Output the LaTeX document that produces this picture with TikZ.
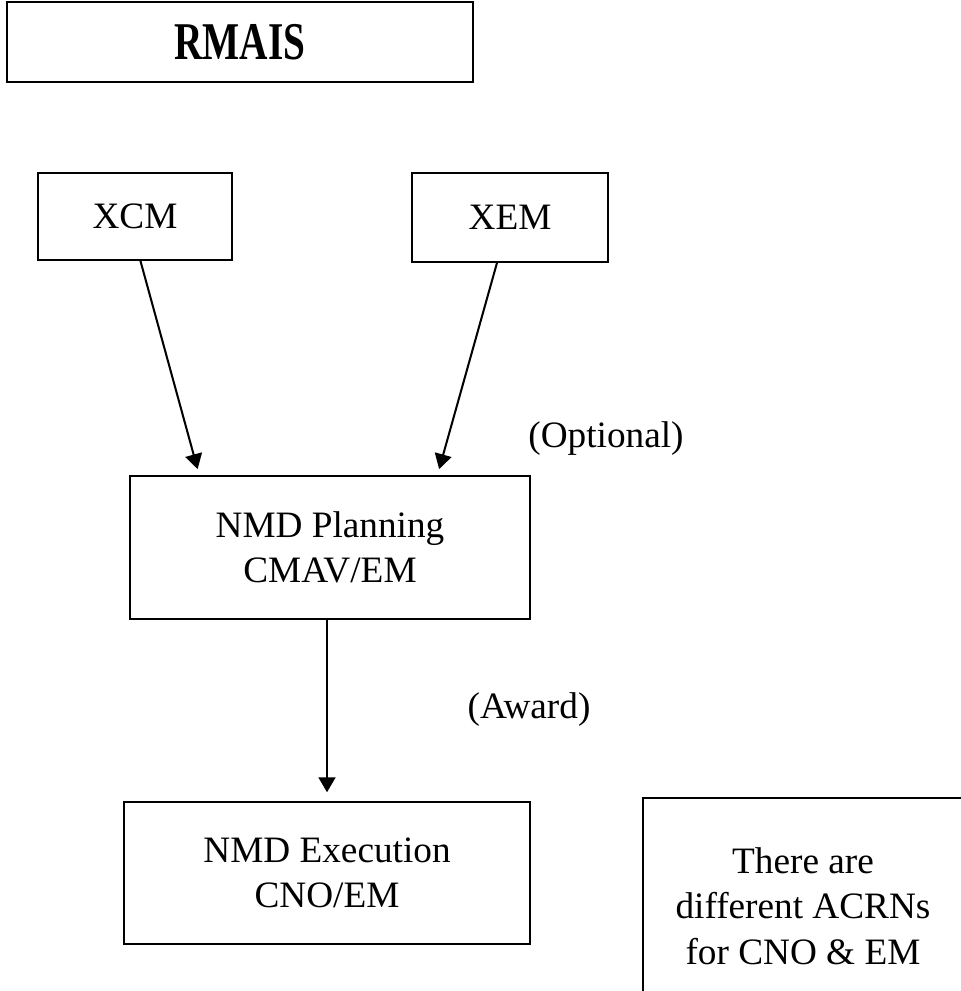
\documentclass[tikz,border=0pt]{standalone}
\usepackage{fontspec}
\setmainfont{Liberation Serif}
\usetikzlibrary{arrows.meta}

\tikzset{
    box/.style={draw, line width=1.1pt, rectangle, inner sep=0pt, align=center,
        font={\fontsize{21.2}{25.9}\selectfont}},
    tag/.style={inner sep=0pt, font={\fontsize{21.2}{25.9}\selectfont}},
    flow/.style={line width=1.15pt, -{Triangle[length=0.3cm, width=0.34cm]}}
}

\begin{document}
\begin{tikzpicture}
        \clip (0, 0) rectangle (19.22, -19.82);

        % Draw the title box
        \node[box, minimum width=9.32cm, minimum height=1.6cm] (rmais) at (4.80, -0.84)
            {\fontsize{30.2}{36}\selectfont\bfseries\scalebox{0.74}[1]{RMAIS}};

        % Draw the two sources
        \node[box, minimum width=3.88cm, minimum height=1.74cm] (xcm) at (2.70, -4.33) {XCM};
        \node[box, minimum width=3.92cm, minimum height=1.78cm] (xem) at (10.20, -4.35) {XEM};

        % Draw the planning and execution boxes
        \node[box, minimum width=8cm, minimum height=2.86cm] (plan) at (6.60, -10.95)
            {NMD Planning\\CMAV/EM};
        \node[box, minimum width=8.12cm, minimum height=2.84cm] (exec) at (6.54, -17.46)
            {NMD Execution\\CNO/EM};

        % Draw the note box
        \node[box, minimum width=6.4cm, minimum height=4.32cm] (note) at (16.06, -18.12)
            {There are\\different ACRNs\\for CNO \& EM};

        % Draw the arrows
        \draw[flow, shorten >=3.5pt] (xcm.277.9) -- (plan.151.4);
        \draw[flow, shorten >=3.5pt] (xem.254.9) -- (plan.34.9);
        \draw[flow, shorten >=5pt] (plan.south -| exec.north) -- (exec.north);

        % Draw the labels
        \node[tag] (optional) at (12.12, -8.78) {(Optional)};
        \node[tag] (award) at (10.58, -14.20) {(Award)};

\end{tikzpicture}
\end{document}
